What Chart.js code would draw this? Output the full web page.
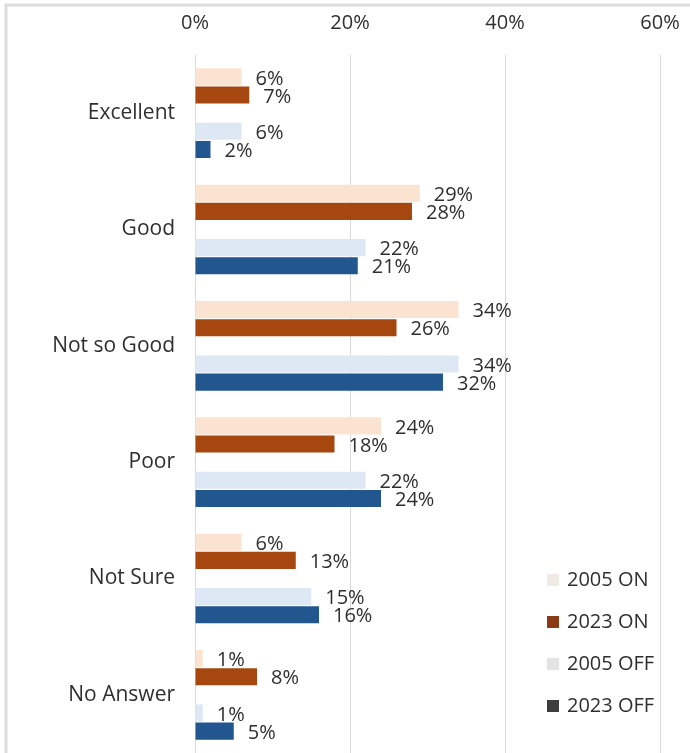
<!DOCTYPE html>
<html>
<head>
<meta charset="utf-8">
<script src="https://cdn.jsdelivr.net/npm/chart.js@4/dist/chart.umd.min.js"></script>
<style>
  html, body { margin: 0; padding: 0; background: #ffffff; overflow: hidden; }
  #wrap { position: relative; width: 690px; height: 753px; }
</style>
</head>
<body>
<div id="wrap"><canvas id="chart" width="690" height="753"></canvas></div>
<script>
// Survey ratings, share of respondents (%)
const categories = ['Excellent', 'Good', 'Not so Good', 'Poor', 'Not Sure', 'No Answer'];
const on2005  = [6, 29, 34, 24, 6, 1];
const on2023  = [7, 28, 26, 18, 13, 8];
const off2005 = [6, 22, 34, 22, 15, 1];
const off2023 = [2, 21, 32, 24, 16, 5];
const tickValues = [0, 20, 40, 60];

const FONT = "'Open Sans', 'DejaVu Sans', sans-serif";
const TEXT = '#2f2f2f';

// Spacer keeps the ON and OFF pairs visually apart inside each category
const spacer = categories.map(() => null);

const datasets = [
  { label: '2005 ON',  data: on2005,  backgroundColor: '#fbe3d1', legendColor: '#f1ebe5' },
  { label: '2023 ON',  data: on2023,  backgroundColor: '#a6470f', legendColor: '#8a3a14' },
  { label: '',         data: spacer,  backgroundColor: 'rgba(0,0,0,0)', spacer: true },
  { label: '2005 OFF', data: off2005, backgroundColor: '#dde8f4', legendColor: '#e4e4e4' },
  { label: '2023 OFF', data: off2023, backgroundColor: '#22568f', legendColor: '#3d3d3d' }
];

// White page with a light frame along the top and left edges
const framePlugin = {
  id: 'frame',
  beforeDraw(chart) {
    const ctx = chart.ctx;
    ctx.save();
    ctx.fillStyle = '#ffffff';
    ctx.fillRect(0, 0, chart.width, chart.height);
    ctx.strokeStyle = '#dcdcdc';
    ctx.lineWidth = 3;
    ctx.beginPath();
    ctx.moveTo(6, chart.height);
    ctx.lineTo(6, 5);
    ctx.lineTo(chart.width, 5);
    ctx.stroke();
    ctx.restore();
  }
};

// Percentage labels just past the end of each bar
const valueLabels = {
  id: 'valueLabels',
  afterDatasetsDraw(chart) {
    const ctx = chart.ctx;
    ctx.save();
    ctx.font = '20px ' + FONT;
    ctx.fillStyle = TEXT;
    ctx.textAlign = 'left';
    ctx.textBaseline = 'middle';
    chart.data.datasets.forEach((ds, i) => {
      if (ds.spacer) return;
      const meta = chart.getDatasetMeta(i);
      meta.data.forEach((bar, j) => {
        const v = ds.data[j];
        if (v == null) return;
        ctx.fillText(v + '%', bar.x + 14, bar.y + 2);
      });
    });
    ctx.restore();
  }
};

// Legend drawn inside the lower right of the plot
const insideLegend = {
  id: 'insideLegend',
  afterDraw(chart) {
    const ctx = chart.ctx;
    const items = chart.data.datasets.filter(d => !d.spacer);
    const x = 547, y0 = 580, gap = 42, box = 12;
    ctx.save();
    ctx.font = '20px ' + FONT;
    ctx.textAlign = 'left';
    ctx.textBaseline = 'middle';
    items.forEach((d, k) => {
      const y = y0 + k * gap;
      ctx.fillStyle = d.legendColor;
      ctx.fillRect(x, y - box / 2, box, box);
      ctx.fillStyle = TEXT;
      ctx.fillText(d.label, x + 20, y);
    });
    ctx.restore();
  }
};

new Chart(document.getElementById('chart'), {
  type: 'bar',
  data: { labels: categories, datasets: datasets },
  options: {
    indexAxis: 'y',
    responsive: false,
    animation: false,
    maintainAspectRatio: false,
    layout: { padding: { top: 0, right: 30, bottom: 0, left: 0 } },
    datasets: { bar: { categoryPercentage: 0.78, barPercentage: 0.94 } },
    plugins: {
      legend: { display: false },
      tooltip: { enabled: false }
    },
    scales: {
      x: {
        position: 'top',
        min: 0,
        max: 60,
        afterBuildTicks(scale) { scale.ticks = tickValues.map(v => ({ value: v })); },
        afterFit(scale) {
          scale.height = 55;
          scale.paddingLeft = 0;
          scale.paddingRight = 0;
        },
        border: { display: false },
        grid: { color: '#d9d9d9', lineWidth: 1, drawTicks: false },
        ticks: {
          padding: 20,
          color: TEXT,
          font: { family: FONT, size: 20 },
          callback: v => v + '%'
        }
      },
      y: {
        afterFit(scale) {
          scale.width = 195;
          // let the category bands run the full plot height
          scale.paddingTop = 0;
          scale.paddingBottom = 0;
        },
        border: { display: false },
        grid: { display: false, drawTicks: false },
        ticks: {
          padding: 20,
          color: TEXT,
          font: { family: FONT, size: 21 }
        }
      }
    }
  },
  plugins: [framePlugin, valueLabels, insideLegend]
});
</script>
</body>
</html>
